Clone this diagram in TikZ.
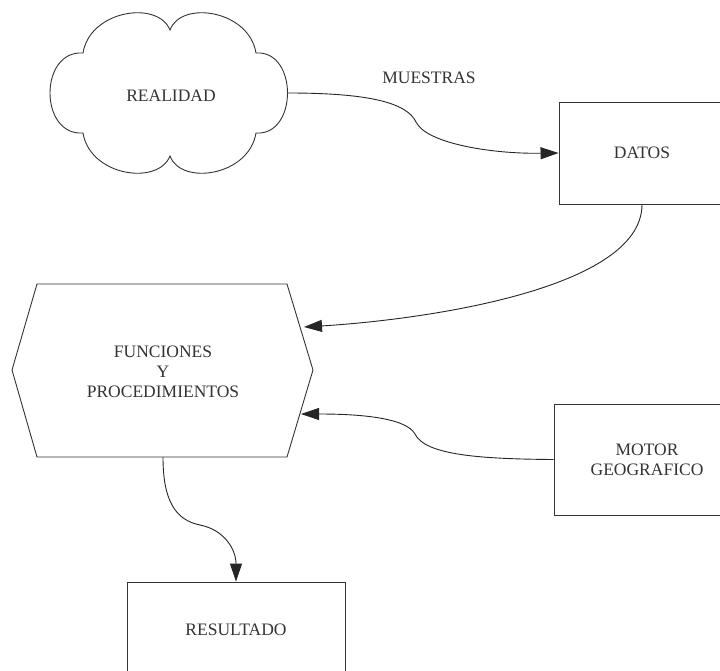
\documentclass[tikz,border=0pt]{standalone}
\usepackage{fontspec}
\setmainfont{Liberation Serif}
\usetikzlibrary{arrows.meta}
\begin{document}
\begin{tikzpicture}[x=1pt,y=-1pt,
  lineart/.style={draw=black!80, line width=0.9pt},
  txtstyle/.style={text=black!80, font=\fontsize{17.5}{20}\selectfont, align=center},
  rectbox/.style={lineart, txtstyle, rectangle, inner sep=0pt},
  flowarrow/.style={draw=black!85, line width=0.9pt, -{Triangle[length=18pt,width=12pt]}}
]
\useasboundingbox (0,0) rectangle (720,671);
\clip (0,0) rectangle (720,671);

% cloud: REALIDAD
\draw[lineart] (83,53) .. controls (90,10) and (158,0) .. (170,30)
  .. controls (181,0) and (249,10) .. (256,53)
  .. controls (298,50) and (298,136) .. (256,133)
  .. controls (249,176) and (181,186) .. (170,156)
  .. controls (158,186) and (90,176) .. (83,133)
  .. controls (39,136) and (39,50) .. cycle;
\node[txtstyle] (realidad) at (171,96) {REALIDAD};
\coordinate (cloud-e) at (288,93);

% boxes
\node[rectbox, minimum width=166pt, minimum height=102pt] (datos) at (642,153) {DATOS};
\node[rectbox, minimum width=186pt, minimum height=111pt] (motor) at (647,459.5) {MOTOR\\GEOGRAFICO};
\node[rectbox, minimum width=218pt, minimum height=96pt] (res) at (236,630) {RESULTADO};

% hexagon: functions and procedures
\draw[lineart] (37,284) -- (287,284) -- (313,370) -- (287,457) -- (37,457) -- (12,370) -- cycle;
\node[txtstyle] (fp) at (163,372) {FUNCIONES\\Y\\PROCEDIMIENTOS};
\coordinate (fp-in1) at (304,327);
\coordinate (fp-in2) at (301,414);
\coordinate (fp-out) at (163,457);

% connectors
\draw[flowarrow] (cloud-e) .. controls (370,93) and (407,103) .. (416,122)
  .. controls (426,143) and (490,154) .. (datos.west);
\node[txtstyle] (muestras) at (429,78) {MUESTRAS};

\draw[flowarrow] (datos.south) .. controls (642,290) and (420,320) .. (fp-in1);

\draw[flowarrow] (motor.west) .. controls (480,459) and (425,455) .. (415,434)
  .. controls (405,416) and (350,414) .. (fp-in2);

\draw[flowarrow] (fp-out) .. controls (163,500) and (175,520) .. (200,525)
  .. controls (225,530) and (236,550) .. (res.north);
\end{tikzpicture}
\end{document}
